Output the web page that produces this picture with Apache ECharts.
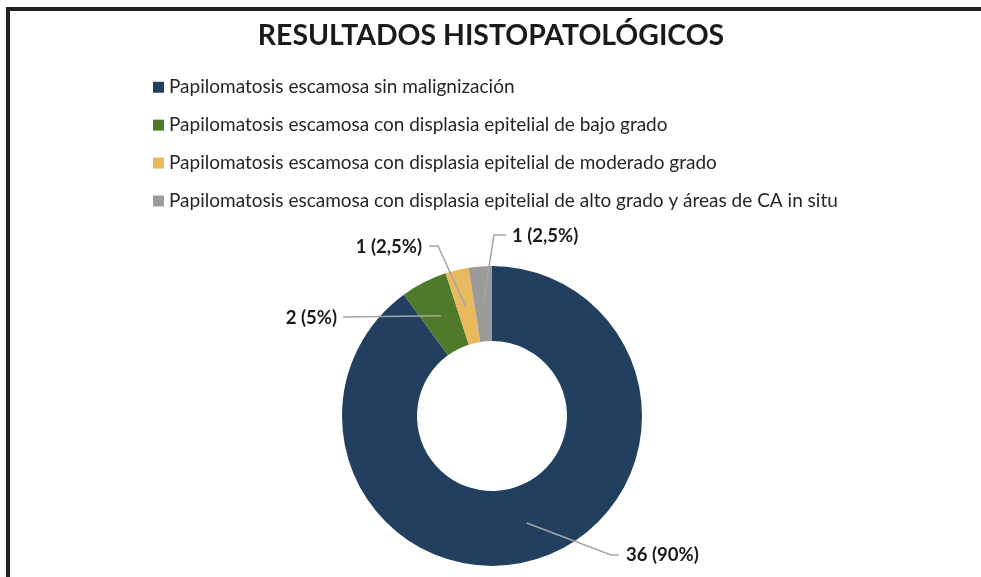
<!DOCTYPE html>
<html>
<head>
<meta charset="utf-8">
<script src="https://cdn.jsdelivr.net/npm/echarts@6/dist/echarts.min.js"></script>
<style>
html,body{margin:0;padding:0;background:#fff;}
#chart{width:981px;height:577px;}
</style>
</head>
<body>
<div id="chart"></div>
<script>
// ---- data ----
const titleText = 'RESULTADOS HISTOPATOLÓGICOS';
const categories = [
  'Papilomatosis escamosa sin malignización',
  'Papilomatosis escamosa con displasia epitelial de bajo grado',
  'Papilomatosis escamosa con displasia epitelial de moderado grado',
  'Papilomatosis escamosa con displasia epitelial de alto grado y áreas de CA in situ'
];
const values = [36, 2, 1, 1];
const colors = ['#233F5F', '#4F7A2A', '#E9B95E', '#9B9B9B'];

// ---- layout (styling) ----
const CX = 492, CY = 416, R_IN = 75, R_OUT = 150;
const total = values.reduce((a, b) => a + b, 0);
// label placement: [labelX, labelY, align, bendX, bendY, endX, endY]
const labelPlace = [
  [626, 555, 'left', 611, 555, 619, 555],
  [337, 318, 'right', 343, 317, 343, 317],
  [422, 247, 'right', 438, 246, 429, 246],
  [512, 236, 'left', 494, 235, 506, 235]
];

function midAngle(i) {
  let cum = 0;
  for (let k = 0; k < i; k++) cum += values[k];
  return (90 - 360 * (cum + values[i] / 2) / total) * Math.PI / 180;
}

const FONT = 'Lato';
const pieData = categories.map((n, i) => ({ name: n, value: values[i], itemStyle: { color: colors[i] } }));

const chart = echarts.init(document.getElementById('chart'));
chart.setOption({
  animation: false,
  backgroundColor: '#ffffff',
  title: {
    text: titleText,
    left: 486, top: 17, textAlign: 'center',
    textStyle: { fontFamily: FONT, fontWeight: 'bold', fontSize: 28.4, color: '#1a1a1a' }
  },
  legend: {
    orient: 'vertical',
    left: 153, top: 77, padding: 0,
    itemWidth: 11, itemHeight: 11, itemGap: 17.4,
    icon: 'rect',
    selectedMode: false,
    textStyle: { fontFamily: FONT, fontSize: 19, color: '#262626', lineHeight: 20.5, padding: [0, 0, 0, 0] },
    data: categories
  },
  graphic: [
    { type: 'line', shape: { x1: 8, y1: 9, x2: 8, y2: 577 }, style: { stroke: '#222', lineWidth: 4 } },
    { type: 'line', shape: { x1: 6, y1: 9, x2: 981, y2: 9 }, style: { stroke: '#222', lineWidth: 4 } }
  ],
  series: [{
    type: 'pie',
    z: 2,
    center: [CX, CY],
    radius: [R_IN, R_OUT],
    startAngle: 90,
    clockwise: true,
    emphasis: { disabled: true },
    data: pieData,
    itemStyle: { borderWidth: 0 },
    label: { show: false },
    labelLine: { show: false }
  }, {
    type: 'pie',
    z: 3,
    silent: true,
    center: [CX, CY],
    radius: [R_IN, R_OUT],
    startAngle: 90,
    clockwise: true,
    legendHoverLink: false,
    emphasis: { disabled: true },
    data: categories.map((n, i) => ({ name: n, value: values[i] })),
    itemStyle: { color: 'rgba(0,0,0,0)', borderWidth: 0 },
    label: {
      show: true,
      position: 'outside',
      formatter: p => p.value + ' (' + String(Math.round(p.value / total * 1000) / 10).replace('.', ',') + '%)',
      fontFamily: FONT, fontWeight: 'bold', fontSize: 18.5, color: '#1a1a1a'
    },
    labelLine: { show: true, lineStyle: { color: '#A6A6A6', width: 1.5 } },
    labelLayout: function (params) {
      const i = params.dataIndex;
      const pl = labelPlace[i];
      const a = midAngle(i);
      const rm = (R_IN + R_OUT) / 2;
      const sx = CX + rm * Math.cos(a), sy = CY - rm * Math.sin(a);
      return {
        x: pl[0], y: pl[1], align: pl[2], verticalAlign: 'middle',
        labelLinePoints: [[sx, sy], [pl[3], pl[4]], [pl[5], pl[6]]]
      };
    }
  }]
});
</script>
</body>
</html>
